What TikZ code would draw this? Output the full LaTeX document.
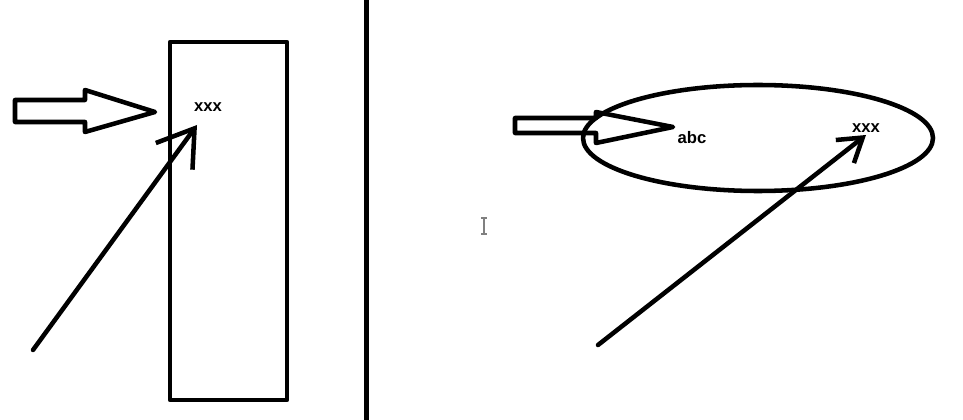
\documentclass[tikz,border=0pt]{standalone}
\usepackage{fontspec}
\setmainfont{Liberation Sans}
\usetikzlibrary{shapes.geometric,arrows.meta}

\tikzset{
  pen/.style={line width=3.4pt, line cap=round, line join=round},
  lbl/.style={font=\bfseries\fontsize{12.5}{13}\selectfont, inner sep=0pt},
  bigarrow/.style={pen, -{Straight Barb[length=26pt, width=34pt]}},
  smallarrow/.style={pen, -{Straight Barb[length=17pt, width=22pt]}}
}

\begin{document}
\begin{tikzpicture}[x=0.75pt, y=-0.75pt]
	\useasboundingbox (0,0) rectangle (963,420);
	% left half
	\node[draw, pen, minimum width=87.75pt, minimum height=268.5pt, inner sep=0pt] (box) at (228.5,221) {};
	\draw[pen] (15,100) -- (85,100) -- (85,90) -- (155,112) -- (85,132) -- (85,122) -- (15,122) -- cycle;
	\node[lbl] (xl) at (208,107) {xxx};
	\coordinate (startl) at (33,350);
	\coordinate (tipl) at (197,125);
	\draw[bigarrow] (startl) -- (tipl);
	% divider
	\coordinate (top) at (366,0);
	\coordinate (bot) at (366,420);
	\draw[line width=3.75pt] (top) -- (bot);
	% cursor
	\draw[gray, line width=1pt] (484,218) -- (484,234) (481,218) -- (487,218) (481,234) -- (487,234);
	% right half
	\draw[pen] (515,118) -- (596,118) -- (596,112) -- (673,127) -- (596,143) -- (596,133) -- (515,133) -- cycle;
	\node[draw, pen, ellipse, minimum width=262.5pt, minimum height=79.5pt, inner sep=0pt] (oval) at (758,138) {};
	\node[lbl] (abc) at (692,138) {abc};
	\node[lbl] (xr) at (866,128) {xxx};
	\coordinate (startr) at (598,345);
	\coordinate (tipr) at (866,135);
	\draw[smallarrow] (startr) -- (tipr);
\end{tikzpicture}
\end{document}
